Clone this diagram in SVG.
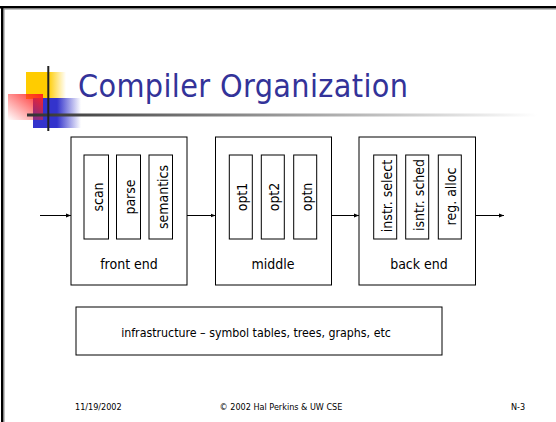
<svg xmlns="http://www.w3.org/2000/svg" width="556" height="422" viewBox="0 0 556 422">
<defs>
<linearGradient id="gy" x1="0" y1="0" x2="1" y2="0">
<stop offset="0" stop-color="#FFCC00"/><stop offset="0.55" stop-color="#FFCC00"/><stop offset="1" stop-color="#FFCC00" stop-opacity="0"/>
</linearGradient>
<linearGradient id="gb" x1="0" y1="0" x2="1" y2="0">
<stop offset="0" stop-color="#3333CC"/><stop offset="0.5" stop-color="#3333CC"/><stop offset="1" stop-color="#3333CC" stop-opacity="0"/>
</linearGradient>
<linearGradient id="gr" x1="1" y1="0" x2="0" y2="1">
<stop offset="0" stop-color="#FF2222"/><stop offset="1" stop-color="#FF2222" stop-opacity="0"/>
</linearGradient>
<linearGradient id="gl" x1="0" y1="0" x2="1" y2="0">
<stop offset="0" stop-color="#333333"/><stop offset="0.5" stop-color="#999999"/><stop offset="1" stop-color="#ffffff"/>
</linearGradient>
<marker id="ah" viewBox="0 0 10 10" refX="10" refY="5" markerWidth="5" markerHeight="5" orient="auto" markerUnits="userSpaceOnUse">
<path d="M0,1 L10,5 L0,9 Z" fill="#000"/>
</marker>
<style>
.box{fill:#fff;stroke:#000;stroke-width:1}
.inner{fill:#fff;stroke:#000;stroke-width:1}
.lbl{font-family:"DejaVu Sans Condensed","Liberation Sans",sans-serif;font-stretch:condensed;font-size:14px;fill:#000;text-anchor:middle}
.foot{font-family:"DejaVu Sans Condensed","Liberation Sans",sans-serif;font-stretch:condensed;font-size:9px;fill:#000}
.conn{stroke:#000;stroke-width:1;fill:none;marker-end:url(#ah)}
</style>
</defs>
<rect width="556" height="422" fill="#fff"/>
<!-- slide frame -->
<rect x="0" y="6" width="556" height="2.5" fill="#000"/>
<rect x="3" y="8.5" width="553" height="1" fill="#888"/>
<rect x="1" y="6" width="2.5" height="416" fill="#000"/>
<rect x="3.5" y="8.5" width="1" height="414" fill="#888"/>
<!-- title decoration -->
<g id="decor">
<rect x="26" y="72" width="40" height="27" fill="url(#gy)"/>
<rect x="33" y="98" width="48" height="30" fill="url(#gb)"/>
<rect x="8" y="94" width="35" height="26" fill="url(#gr)"/>
<rect x="27" y="113.5" width="510" height="3" fill="url(#gl)"/>
<rect x="47.3" y="66" width="2" height="65" fill="#222"/>
</g>
<text x="78" y="97" font-family="DejaVu Sans Condensed, Liberation Sans, sans-serif" font-stretch="condensed" font-size="32" fill="#333399" textLength="330">Compiler Organization</text>
<g id="front-end">
<rect class="box" x="71" y="137" width="116" height="148"/>
<rect class="inner" x="84" y="155" width="24.5" height="84"/>
<rect class="inner" x="116.5" y="155" width="24" height="84"/>
<rect class="inner" x="149" y="155" width="23.5" height="84"/>
<text class="lbl" transform="translate(103,197) rotate(-90)">scan</text>
<text class="lbl" transform="translate(135,197) rotate(-90)">parse</text>
<text class="lbl" transform="translate(167.5,197) rotate(-90)">semantics</text>
<text class="lbl" x="129" y="269">front end</text>
</g>
<g id="middle">
<rect class="box" x="215.5" y="137" width="116" height="148"/>
<rect class="inner" x="229.3" y="155" width="23" height="84"/>
<rect class="inner" x="261.3" y="155" width="23" height="84"/>
<rect class="inner" x="293.7" y="155" width="23" height="84"/>
<text class="lbl" transform="translate(247,197) rotate(-90)">opt1</text>
<text class="lbl" transform="translate(279,197) rotate(-90)">opt2</text>
<text class="lbl" transform="translate(311.5,197) rotate(-90)">optn</text>
<text class="lbl" x="273" y="269">middle</text>
</g>
<g id="back-end">
<rect class="box" x="359" y="137" width="116.5" height="148"/>
<rect class="inner" x="373.7" y="155" width="23" height="84"/>
<rect class="inner" x="405.7" y="155" width="23" height="84"/>
<rect class="inner" x="438.3" y="155" width="23" height="84"/>
<text class="lbl" transform="translate(391.5,196) rotate(-90)">instr. select</text>
<text class="lbl" transform="translate(423.5,195) rotate(-90)">isntr. sched</text>
<text class="lbl" transform="translate(456,196.5) rotate(-90)">reg. alloc</text>
<text class="lbl" x="419" y="269">back end</text>
</g>
<g id="infrastructure">
<rect class="box" x="76" y="307" width="366" height="48"/>
<text class="lbl" x="256" y="337" font-size="12.3" style="font-size:12.3px">infrastructure – symbol tables, trees, graphs, etc</text>
</g>
<g id="connectors">
<line class="conn" x1="40" y1="215.5" x2="71" y2="215.5"/>
<line class="conn" x1="187" y1="215.5" x2="215.5" y2="215.5"/>
<line class="conn" x1="331.5" y1="215.5" x2="359" y2="215.5"/>
<line class="conn" x1="475.5" y1="215.5" x2="504" y2="215.5"/>
</g>
<g id="footer">
<text class="foot" x="75" y="410">11/19/2002</text>
<text class="foot" x="281" y="410" text-anchor="middle">© 2002 Hal Perkins &amp; UW CSE</text>
<text class="foot" x="511" y="410">N-3</text>
</g>
</svg>
